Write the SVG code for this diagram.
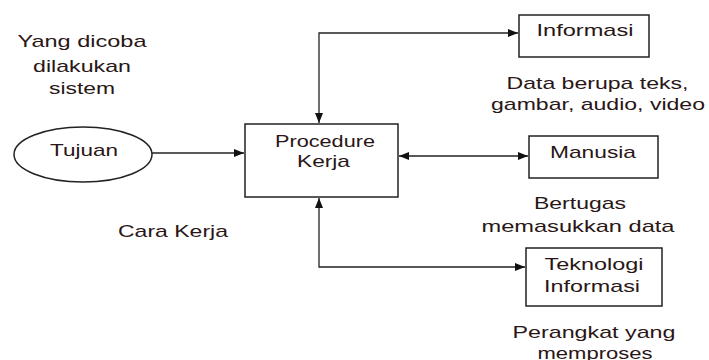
<svg xmlns="http://www.w3.org/2000/svg" width="709" height="360" viewBox="0 0 709 360">
<style>
.box{fill:#fff;stroke:#222;stroke-width:1.5}
.t{font-family:"Liberation Sans",Arial,sans-serif;font-size:17px;fill:#2a1616;text-anchor:middle}
.c{fill:none;stroke:#222;stroke-width:1.3}
</style>
<defs>
<marker id="ah" viewBox="0 0 10 8" refX="10" refY="4" markerWidth="10" markerHeight="8" markerUnits="userSpaceOnUse" orient="auto-start-reverse">
<path d="M0,0 L10,4 L0,8 Z" fill="#111"/>
</marker>
</defs>
<rect width="709" height="360" fill="#fff"/>
<g id="connectors">
<line class="c" x1="152" y1="153" x2="244" y2="153" marker-end="url(#ah)"/>
<polyline class="c" points="518,33 319,33 319,123" marker-start="url(#ah)" marker-end="url(#ah)"/>
<line class="c" x1="399" y1="156" x2="528" y2="156" marker-start="url(#ah)" marker-end="url(#ah)"/>
<polyline class="c" points="319,198 319,267 525,267" marker-start="url(#ah)" marker-end="url(#ah)"/>
</g>
<g id="label-yang">
<text class="t" x="82" y="47" textLength="129" lengthAdjust="spacingAndGlyphs">Yang dicoba</text>
<text class="t" x="82" y="71.5" textLength="98" lengthAdjust="spacingAndGlyphs">dilakukan</text>
<text class="t" x="82" y="94" textLength="66" lengthAdjust="spacingAndGlyphs">sistem</text>
</g>
<g id="tujuan">
<ellipse cx="83" cy="154.5" rx="69" ry="27.5" class="box"/>
<text class="t" x="84" y="156" textLength="68" lengthAdjust="spacingAndGlyphs">Tujuan</text>
</g>
<g id="procedure">
<rect class="box" x="245" y="124" width="153" height="73"/>
<text class="t" x="325" y="146.5" textLength="100" lengthAdjust="spacingAndGlyphs">Procedure</text>
<text class="t" x="323.5" y="167" textLength="53" lengthAdjust="spacingAndGlyphs">Kerja</text>
</g>
<g id="label-cara">
<text class="t" x="173" y="236.5" textLength="110" lengthAdjust="spacingAndGlyphs">Cara Kerja</text>
</g>
<g id="informasi">
<rect class="box" x="519" y="15" width="130" height="42"/>
<text class="t" x="585" y="36" textLength="97" lengthAdjust="spacingAndGlyphs">Informasi</text>
</g>
<g id="label-data">
<text class="t" x="597.5" y="89" textLength="182" lengthAdjust="spacingAndGlyphs">Data berupa teks,</text>
<text class="t" x="598" y="110" textLength="214" lengthAdjust="spacingAndGlyphs">gambar, audio, video</text>
</g>
<g id="manusia">
<rect class="box" x="529" y="136" width="129" height="42"/>
<text class="t" x="593" y="158" textLength="86" lengthAdjust="spacingAndGlyphs">Manusia</text>
</g>
<g id="label-bertugas">
<text class="t" x="580" y="209" textLength="92" lengthAdjust="spacingAndGlyphs">Bertugas</text>
<text class="t" x="578" y="231.5" textLength="193" lengthAdjust="spacingAndGlyphs">memasukkan data</text>
</g>
<g id="teknologi">
<rect class="box" x="526" y="248" width="136" height="58"/>
<text class="t" x="594" y="270" textLength="99" lengthAdjust="spacingAndGlyphs">Teknologi</text>
<text class="t" x="592" y="291.5" textLength="96" lengthAdjust="spacingAndGlyphs">Informasi</text>
</g>
<g id="label-perangkat">
<text class="t" x="594" y="337.5" textLength="163" lengthAdjust="spacingAndGlyphs">Perangkat yang</text>
<text class="t" x="595" y="359" textLength="115" lengthAdjust="spacingAndGlyphs">memproses</text>
</g>
</svg>
